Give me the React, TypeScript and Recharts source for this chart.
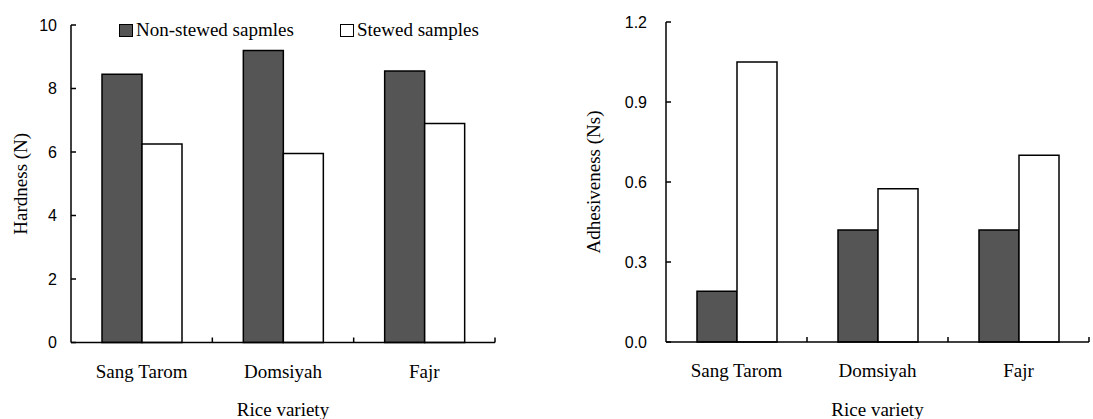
import React from 'react';
import { BarChart, Bar, XAxis, YAxis, Label } from 'recharts';

const categories = ['Sang Tarom', 'Domsiyah', 'Fajr'];
const seriesNames = ['Non-stewed sapmles', 'Stewed samples'];
const hardnessNonStewed = [8.45, 9.2, 8.55];
const hardnessStewed = [6.25, 5.95, 6.9];
const adhesivenessNonStewed = [0.19, 0.42, 0.42];
const adhesivenessStewed = [1.05, 0.575, 0.7];
const hardnessTicks = [0, 2, 4, 6, 8, 10];
const adhesivenessTicks = [0, 0.3, 0.6, 0.9, 1.2];

const hardnessData = categories.map((c, i) => ({ name: c, a: hardnessNonStewed[i], b: hardnessStewed[i] }));
const adhesivenessData = categories.map((c, i) => ({ name: c, a: adhesivenessNonStewed[i], b: adhesivenessStewed[i] }));

const SERIF = '"Liberation Serif", "Times New Roman", serif';
const SANS = '"Liberation Sans", Arial, sans-serif';
const DARK = '#555555';

function CategoryTick(props: any) {
  const { x, y, payload } = props;
  const bx = x + (payload.offset || 0);
  return (
    <g>
      <line x1={bx} x2={bx} y1={y} y2={y - 5} stroke="#000" strokeWidth={1.5} />
      <text x={x} y={y + 28.5} textAnchor="middle" dominantBaseline="central" fontFamily={SERIF} fontSize={19} fill="#000">
        {payload.value}
      </text>
    </g>
  );
}

function Panel(props: any) {
  const { data, ticks, domain, yLabel, yWidth, width, top, right, xHeight, fmt, labelOffset, yTickMargin } = props;
  return (
    <BarChart width={width} height={419} data={data} margin={{ top, right, left: 0, bottom: 0 }} barGap={0}>
      <XAxis
        dataKey="name"
        height={xHeight}
        tick={(p: any) => <CategoryTick {...p} />}
        tickLine={false}
        tickSize={0}
        tickMargin={0}
        interval={0}
        axisLine={{ stroke: '#000', strokeWidth: 1.5 }}
      >
        <Label value="Rice variety" position="insideBottom" offset={3} style={{ fontFamily: SERIF, fontSize: 19, fill: '#000' }} />
      </XAxis>
      <YAxis
        width={yWidth}
        domain={domain}
        ticks={ticks}
        interval={0}
        tickFormatter={fmt}
        tickSize={-5}
        tickMargin={yTickMargin}
        tick={{ fontFamily: SANS, fontSize: 16, fill: '#000' }}
        tickLine={{ stroke: '#000', strokeWidth: 1.5 }}
        axisLine={{ stroke: '#000', strokeWidth: 1.5 }}
      >
        <Label
          value={yLabel}
          angle={-90}
          position="insideLeft"
          offset={labelOffset}
          style={{ fontFamily: SERIF, fontSize: 19, fill: '#000', textAnchor: 'middle' }}
        />
      </YAxis>
      <Bar dataKey="a" name={seriesNames[0]} fill={DARK} stroke="#000" strokeWidth={1.5} barSize={40} isAnimationActive={false} />
      <Bar dataKey="b" name={seriesNames[1]} fill="#ffffff" stroke="#000" strokeWidth={1.5} barSize={40} isAnimationActive={false} />
    </BarChart>
  );
}

function LegendSquare({ color }: { color: string }) {
  return (
    <span
      style={{
        display: 'inline-block',
        width: 12,
        height: 11,
        background: color,
        border: '1.5px solid #000',
        marginRight: 3,
      }}
    />
  );
}

export default function App() {
  return (
    <div style={{ position: 'absolute', left: 0, top: 0, width: 1093, height: 419, background: '#fff', overflow: 'hidden' }}>
      <div style={{ position: 'absolute', left: 0, top: 0 }}>
        <Panel
          data={hardnessData}
          ticks={hardnessTicks}
          domain={[0, 10]}
          yLabel="Hardness (N)"
          yWidth={71}
          width={520}
          top={25}
          right={25}
          xHeight={76.5}
          fmt={(v: number) => String(v)}
          labelOffset={20}
          yTickMargin={19}
        />
      </div>
      <div style={{ position: 'absolute', left: 560, top: 0 }}>
        <Panel
          data={adhesivenessData}
          ticks={adhesivenessTicks}
          domain={[0, 1.2]}
          yLabel="Adhesiveness (Ns)"
          yWidth={106}
          width={533}
          top={22}
          right={4}
          xHeight={77}
          fmt={(v: number) => v.toFixed(1)}
          labelOffset={33}
          yTickMargin={24}
        />
      </div>
      <div
        style={{
          position: 'absolute',
          left: 119,
          top: 20,
          display: 'flex',
          alignItems: 'center',
          fontFamily: SERIF,
          fontSize: 19,
          lineHeight: '20px',
          color: '#000',
          whiteSpace: 'nowrap',
        }}
      >
        <div style={{ width: 221, display: 'flex', alignItems: 'center' }}>
          <LegendSquare color={DARK} />
          <span>{seriesNames[0]}</span>
        </div>
        <div style={{ display: 'flex', alignItems: 'center' }}>
          <LegendSquare color="#ffffff" />
          <span>{seriesNames[1]}</span>
        </div>
      </div>
    </div>
  );
}
